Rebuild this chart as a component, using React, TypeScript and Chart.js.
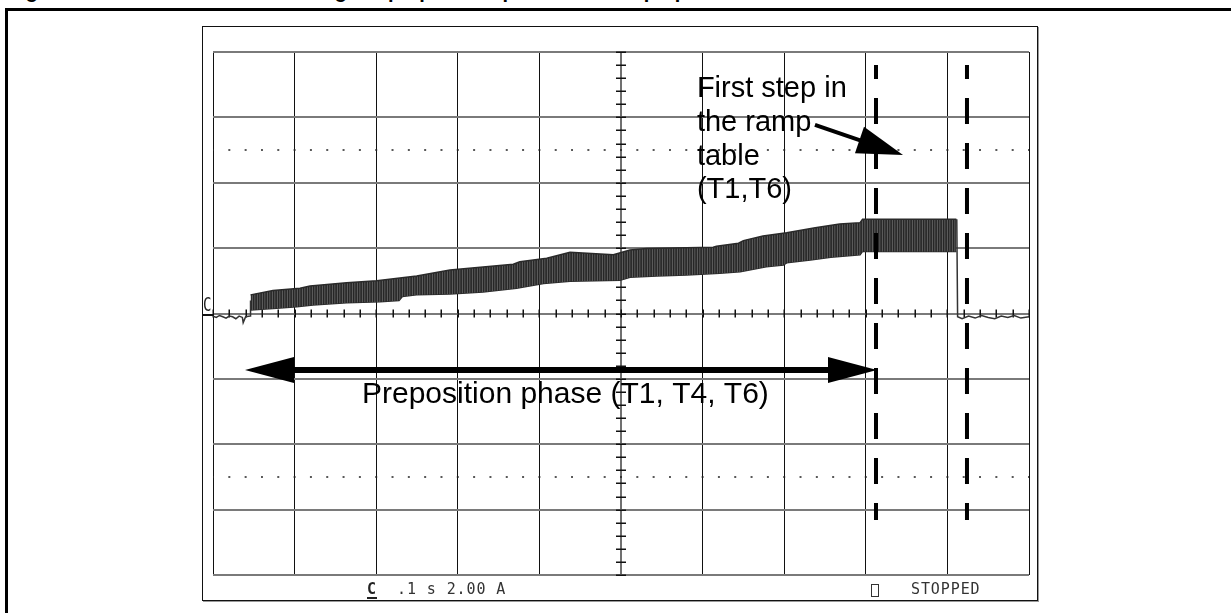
import React, { useEffect, useRef } from "react";
import { Chart, registerables } from "chart.js";

Chart.register(...registerables);

// Scope settings: 0.1 s per division (10 div), 2.00 A per division (8 div)
const timeMin = 0;
const timeMax = 1;
const timeStep = 0.1;
const ampMin = -8;
const ampMax = 8;
const ampStep = 2;

// Upper edge of the chopped current band (s, A)
const highTime = [0.046, 0.0735, 0.1066, 0.1189, 0.1638, 0.2006, 0.2496, 0.2904, 0.3309, 0.368, 0.376, 0.409, 0.4375, 0.4906, 0.511, 0.5315, 0.613, 0.617, 0.644, 0.65, 0.674, 0.703, 0.738, 0.768, 0.793, 0.796, 0.911];
const highAmp = [0.57, 0.7, 0.77, 0.84, 0.94, 1.0, 1.15, 1.33, 1.42, 1.51, 1.58, 1.69, 1.87, 1.8, 1.94, 1.99, 2.03, 2.06, 2.15, 2.23, 2.37, 2.47, 2.62, 2.74, 2.78, 2.88, 2.88];
// Lower edge of the chopped current band (s, A)
const lowTime = [0.046, 0.078, 0.1026, 0.1225, 0.1638, 0.2047, 0.228, 0.232, 0.2496, 0.2904, 0.3309, 0.372, 0.405, 0.4375, 0.4988, 0.511, 0.544, 0.5805, 0.621, 0.646, 0.678, 0.699, 0.703, 0.732, 0.757, 0.793, 0.796, 0.911];
const lowAmp = [0.11, 0.16, 0.21, 0.26, 0.33, 0.36, 0.4, 0.52, 0.57, 0.6, 0.66, 0.77, 0.92, 0.99, 1.02, 1.11, 1.15, 1.18, 1.23, 1.28, 1.43, 1.48, 1.55, 1.64, 1.72, 1.8, 1.9, 1.9];

// Idle trace before the start and after the stop (s, A)
const preTime = [0, 0.004, 0.008, 0.012, 0.016, 0.02, 0.024, 0.028, 0.032, 0.036, 0.037, 0.04, 0.0455, 0.046];
const preAmp = [-0.08, -0.12, -0.06, -0.1, -0.14, -0.08, -0.1, -0.16, -0.08, -0.12, -0.28, -0.1, -0.08, 0.4];
const postTime = [0.9115, 0.9125, 0.918, 0.926, 0.934, 0.942, 0.95, 0.958, 0.966, 0.974, 0.982, 0.99, 1];
const postAmp = [2.88, -0.1, -0.16, -0.08, -0.14, -0.06, -0.12, -0.16, -0.08, -0.12, -0.06, -0.14, -0.1];

// Cursors and marker levels
const cursorTimes = [0.8125, 0.924];
const cursorTop = 7.6;
const cursorBottom = -6.32;
const markerLevels = [5, -5];

// Annotations (data units)
const prepArrow = { t0: 0.0392, t1: 0.8137, a: -1.73 };
const rampArrow = { t0: 0.7377, a0: 5.77, t1: 0.8456, a1: 4.85 };
const rampLabel = ["First step in", "the ramp", "table", "(T1,T6)"];
const rampLabelAnchor = { t: 0.593, a: 6.62 };
const prepLabel = "Preposition phase (T1, T4, T6)";
const prepLabelAnchor = { t: 0.1826, a: -2.74 };

const titleText = "Figure 12. Current waveform during the preposition phase and ramp-up";
const footerTimebase = ".1 s 2.00 A";
const statusText = "STOPPED";

function drawArrow(
  ctx: CanvasRenderingContext2D,
  x0: number, y0: number, x1: number, y1: number,
  lw: number, headLen: number, headHalf: number, both: boolean
) {
  const ang = Math.atan2(y1 - y0, x1 - x0);
  const cos = Math.cos(ang), sin = Math.sin(ang);
  const sx = both ? x0 + cos * headLen * 0.9 : x0;
  const sy = both ? y0 + sin * headLen * 0.9 : y0;
  const ex = x1 - cos * headLen * 0.9;
  const ey = y1 - sin * headLen * 0.9;
  ctx.save();
  ctx.strokeStyle = "#000";
  ctx.fillStyle = "#000";
  ctx.lineWidth = lw;
  ctx.lineCap = "butt";
  ctx.beginPath();
  ctx.moveTo(sx, sy);
  ctx.lineTo(ex, ey);
  ctx.stroke();
  const head = (tx: number, ty: number, dx: number, dy: number) => {
    const bx = tx - dx * headLen, by = ty - dy * headLen;
    ctx.beginPath();
    ctx.moveTo(tx, ty);
    ctx.lineTo(bx - dy * headHalf, by + dx * headHalf);
    ctx.lineTo(bx + dy * headHalf, by - dx * headHalf);
    ctx.closePath();
    ctx.fill();
  };
  head(x1, y1, cos, sin);
  if (both) head(x0, y0, -cos, -sin);
  ctx.restore();
}

const scopeOverlay = {
  id: "scopeOverlay",
  beforeDatasetsDraw(chart: any) {
    const { ctx } = chart;
    const xs = chart.scales.x, ys = chart.scales.y;
    const cx = xs.getPixelForValue((timeMin + timeMax) / 2);
    const cy = ys.getPixelForValue(0);
    ctx.save();
    ctx.strokeStyle = "#111";
    ctx.lineWidth = 1.5;
    ctx.beginPath();
    for (let i = 0; i <= 50; i++) {
      const px = Math.round(xs.getPixelForValue(i / 50)) + 0.25;
      ctx.moveTo(px, cy - 4);
      ctx.lineTo(px, cy + 4);
    }
    for (let i = -20; i <= 20; i++) {
      const py = Math.round(ys.getPixelForValue(i * 0.4)) + 0.25;
      ctx.moveTo(cx - 5, py);
      ctx.lineTo(cx + 5, py);
    }
    ctx.stroke();
    ctx.restore();
  },
  afterDraw(chart: any) {
    const { ctx } = chart;
    const xs = chart.scales.x, ys = chart.scales.y;
    const X = (v: number) => xs.getPixelForValue(v);
    const Y = (v: number) => ys.getPixelForValue(v);
    drawArrow(ctx, X(prepArrow.t0), Y(prepArrow.a), X(prepArrow.t1), Y(prepArrow.a), 6, 49, 13, true);
    drawArrow(ctx, X(rampArrow.t0), Y(rampArrow.a0), X(rampArrow.t1), Y(rampArrow.a1), 4, 46, 14, false);
    ctx.save();
    ctx.fillStyle = "#000";
    ctx.textBaseline = "alphabetic";
    ctx.textAlign = "left";
    ctx.font = '29px "Liberation Sans", Arial, sans-serif';
    const lx = X(rampLabelAnchor.t), ly = Y(rampLabelAnchor.a);
    rampLabel.forEach((line, i) => ctx.fillText(line, lx, ly + i * 33.7));
    ctx.font = '30px "Liberation Sans", Arial, sans-serif';
    ctx.fillText(prepLabel, X(prepLabelAnchor.t), Y(prepLabelAnchor.a));
    ctx.restore();
  },
};

function makePattern(): CanvasPattern | string {
  const c = document.createElement("canvas");
  c.width = 5;
  c.height = 2;
  const g = c.getContext("2d");
  if (!g) return "#3a3a3a";
  const cols = ["#262626", "#4a4a4a", "#383838", "#2c2c2c", "#5a5a5a"];
  cols.forEach((col, i) => {
    g.fillStyle = col;
    g.fillRect(i, 0, 1, 2);
  });
  return g.createPattern(c, "repeat") || "#3a3a3a";
}

export default function App() {
  const ref = useRef<HTMLCanvasElement | null>(null);

  useEffect(() => {
    if (!ref.current) return;
    const pts = (ts: number[], vs: number[]) => ts.map((t, i) => ({ x: t, y: vs[i] }));
    const cursorSets = cursorTimes.map((t) => ({
      data: [{ x: t, y: cursorTop }, { x: t, y: cursorBottom }],
      borderColor: "#000",
      borderWidth: 4,
      borderDash: [26, 19],
      borderDashOffset: 12,
      pointRadius: 0,
      fill: false,
    }));
    const markerSets = markerLevels.map((a) => ({
      data: [{ x: timeMin, y: a }, { x: timeMax, y: a }],
      borderColor: "#222",
      borderWidth: 1.5,
      borderDash: [2, 14.32],
      borderDashOffset: 1,
      pointRadius: 0,
      fill: false,
    }));
    const chart = new Chart(ref.current, {
      type: "line",
      data: {
        datasets: [
          ...cursorSets,
          {
            data: pts(highTime, highAmp),
            borderColor: "#2a2a2a",
            borderWidth: 1.5,
            pointRadius: 0,
            fill: "+1",
            backgroundColor: makePattern() as any,
          },
          {
            data: pts(lowTime, lowAmp),
            borderColor: "#2a2a2a",
            borderWidth: 1.5,
            pointRadius: 0,
            fill: false,
          },
          { data: pts(preTime, preAmp), borderColor: "#333", borderWidth: 1.5, pointRadius: 0, fill: false },
          { data: pts(postTime, postAmp), borderColor: "#333", borderWidth: 1.5, pointRadius: 0, fill: false },
          ...markerSets,
        ] as any,
      },
      options: {
        animation: false,
        responsive: false,
        devicePixelRatio: 1,
        layout: { padding: { left: 10, right: 8, top: 25, bottom: 25 } },
        plugins: {
          legend: { display: false },
          tooltip: { enabled: false },
          title: { display: false },
        },
        elements: { point: { radius: 0 }, line: { tension: 0 } },
        scales: {
          x: {
            type: "linear",
            min: timeMin,
            max: timeMax,
            ticks: { display: false, stepSize: timeStep },
            border: { display: false },
            grid: {
              drawTicks: false,
              color: (c: any) => (Math.abs(c.tick.value - 0.5) < 1e-6 ? "#707070" : "#111"),
              lineWidth: (c: any) => (Math.abs(c.tick.value - 0.5) < 1e-6 ? 2 : 1),
            },
            afterFit: (s: any) => {
              s.height = 0;
            },
          },
          y: {
            type: "linear",
            min: ampMin,
            max: ampMax,
            ticks: { display: false, stepSize: ampStep },
            border: { display: false },
            grid: { drawTicks: false, color: "#7a7a7a", lineWidth: 2 },
            afterFit: (s: any) => {
              s.width = 0;
            },
          },
        },
      },
      plugins: [scopeOverlay],
    } as any);
    return () => chart.destroy();
  }, []);

  const mono = '"DejaVu Sans Mono", "Liberation Mono", monospace';

  return (
    <div style={{ position: "absolute", left: 0, top: 0, width: 1231, height: 613, overflow: "hidden", background: "#fff" }}>
      <div
        style={{
          position: "absolute",
          left: 8,
          top: -19,
          font: 'bold 20px "Liberation Sans", Arial, sans-serif',
          lineHeight: "20px",
          whiteSpace: "nowrap",
          color: "#000",
        }}
      >
        {titleText}
      </div>
      <div
        style={{
          position: "absolute",
          left: 5,
          top: 8,
          width: 1400,
          height: 800,
          borderLeft: "3px solid #000",
          borderTop: "3px solid #000",
          background: "transparent",
        }}
      />
      <div
        style={{
          position: "absolute",
          left: 202,
          top: 26,
          width: 836,
          height: 575,
          boxSizing: "border-box",
          border: "1px solid #111",
          boxShadow: "1px 1px 0 #999",
        }}
      />
      <canvas ref={ref} width={834} height={573} style={{ position: "absolute", left: 203, top: 27, width: 834, height: 573 }} />
      {/* channel reference marker */}
      <div style={{ position: "absolute", left: 203, top: 294, font: `20px ${mono}`, lineHeight: "20px", color: "#222", transform: "scaleX(0.7)", transformOrigin: "left" }}>C</div>
      <div style={{ position: "absolute", left: 203, top: 314, width: 10, height: 2, background: "#111" }} />
      {/* footer */}
      <div style={{ position: "absolute", left: 367, top: 581, font: `bold 15px ${mono}`, lineHeight: "17px", color: "#222" }}>C</div>
      <div style={{ position: "absolute", left: 367, top: 597, width: 10, height: 2, background: "#222" }} />
      <div style={{ position: "absolute", left: 397, top: 581, font: `15px ${mono}`, lineHeight: "17px", letterSpacing: "0.9px", color: "#333", whiteSpace: "pre" }}>
        {footerTimebase}
      </div>
      <div style={{ position: "absolute", left: 871, top: 584, width: 6, height: 11, border: "1.5px solid #333" }} />
      <div style={{ position: "absolute", left: 911, top: 581, font: `15px ${mono}`, lineHeight: "17px", letterSpacing: "0.9px", color: "#333", whiteSpace: "pre" }}>
        {statusText}
      </div>
    </div>
  );
}
